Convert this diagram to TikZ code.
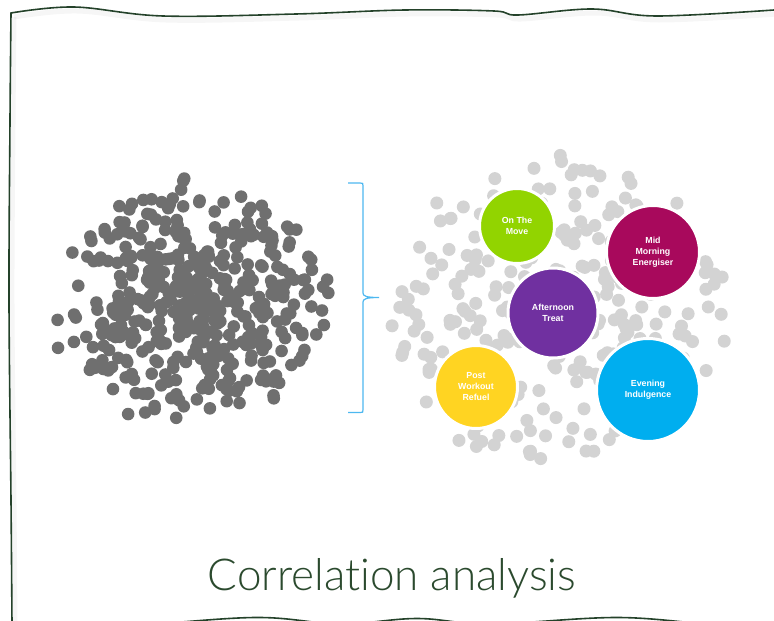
\documentclass[tikz,border=0pt]{standalone}
\usepackage{fontspec}
\setmainfont{Liberation Sans}
\newfontfamily\titlefont[Ligatures={NoCommon,NoDiscretionary,NoContextual}]{Lato Light}
\definecolor{leftdot}{HTML}{6F6F6F}
\definecolor{rightdot}{HTML}{D3D3D3}
\definecolor{cgreen}{HTML}{92D400}
\definecolor{cmag}{HTML}{A8095C}
\definecolor{cpurple}{HTML}{7030A0}
\definecolor{cyellow}{HTML}{FFD422}
\definecolor{ccyan}{HTML}{00AEEF}
\definecolor{bracecol}{HTML}{4DB8F0}
\definecolor{bordercol}{HTML}{24422A}
\definecolor{titlecol}{HTML}{2B4A2E}
\tikzset{
  bubble/.style={circle, draw=white, line width=3pt, inner sep=0pt, align=center,
    text=white, font=\bfseries\fontsize{8.8}{11}\selectfont},
  frameline/.style={draw=bordercol, line width=1.6pt, line cap=round},
  frameshadow/.style={draw=black, opacity=0.035, line width=5pt},
}
\begin{document}
\begin{tikzpicture}[x=1pt,y=-1pt]
\useasboundingbox (0,0) rectangle (774,621);
\fill[white] (0,0) rectangle (774,621);
% frame shadow
\begin{scope}[shift={(3,4)}]
\draw[frameshadow] plot[smooth, tension=0.6] coordinates {(12,624) (11,500) (9,300) (10,120) (11,13)};
\draw[frameshadow] plot[smooth, tension=0.6] coordinates {(11,13) (74,7) (163,16) (296,14) (405,10) (494,11) (518,15) (592,9) (656,16) (774,10)};
\end{scope}
% frame
\draw[frameline] plot[smooth, tension=0.6] coordinates {(12,624) (11,500) (9,300) (10,120) (11,13)};
\draw[frameline] plot[smooth, tension=0.6] coordinates {(11,13) (74,7) (163,16) (296,14) (405,10) (494,11) (518,15) (592,9) (656,16) (774,10)};
\draw[frameline] plot[smooth, tension=0.6] coordinates {(10,625) (120,626) (255,617.5) (340,624) (417,618.5) (490,624) (618,617.5) (720,625) (774,623)};
% left cloud
\pgfmathsetseed{4321}
\foreach \i in {1,...,460}{
  \pgfmathsetmacro\a{360*rnd}
  \pgfmathsetmacro\u{rnd}
  \pgfmathsetmacro\r{(0.4*sqrt(\u)+0.6*\u)*(0.88+0.14*rnd)}
  \fill[leftdot] ({193+142*\r*cos(\a)},{304+125*\r*sin(\a)}) circle (6.3);
}
% right cloud
\pgfmathsetseed{9876}
\foreach \i in {1,...,340}{
  \pgfmathsetmacro\a{360*rnd}
  \pgfmathsetmacro\u{rnd}
  \pgfmathsetmacro\r{(0.5*sqrt(\u)+0.5*\u)*(0.9+0.12*rnd)}
  \fill[rightdot] ({560+172*\r*cos(\a)},{313+158*\r*sin(\a)}) circle (6.5);
}
% brace
\coordinate (bt) at (348,183);
\coordinate (bb) at (348,412.5);
\coordinate (tip) at (379,297.5);
\draw[bracecol, line width=1.2pt] (bt) -- (360,183) .. controls (363,183) .. (363,186) -- (363,293)
  .. controls (363,296) and (366,297.5) .. (tip)
  .. controls (366,297.5) and (363,299) .. (363,302) -- (363,409.5)
  .. controls (363,412.5) .. (360,412.5) -- (bb);
% bubbles
\node[bubble, fill=cgreen,  minimum size=75pt] (move) at (517,226) {On The\\Move};
\node[bubble, fill=cmag,    minimum size=93pt] (mid) at (653,252) {Mid\\Morning\\Energiser};
\node[bubble, fill=cpurple, minimum size=90pt] (aft) at (553,313) {Afternoon\\Treat};
\node[bubble, fill=cyellow, minimum size=83pt] (post) at (476,387) {Post\\Workout\\Refuel};
\node[bubble, fill=ccyan,   minimum size=103pt] (eve) at (648,390) {Evening\\Indulgence};
% title
\node[anchor=base, text=titlecol, font=\titlefont\fontsize{44}{50}\selectfont, inner sep=0pt] (title) at (392,590) {Correlation analysis};
\end{tikzpicture}
\end{document}
